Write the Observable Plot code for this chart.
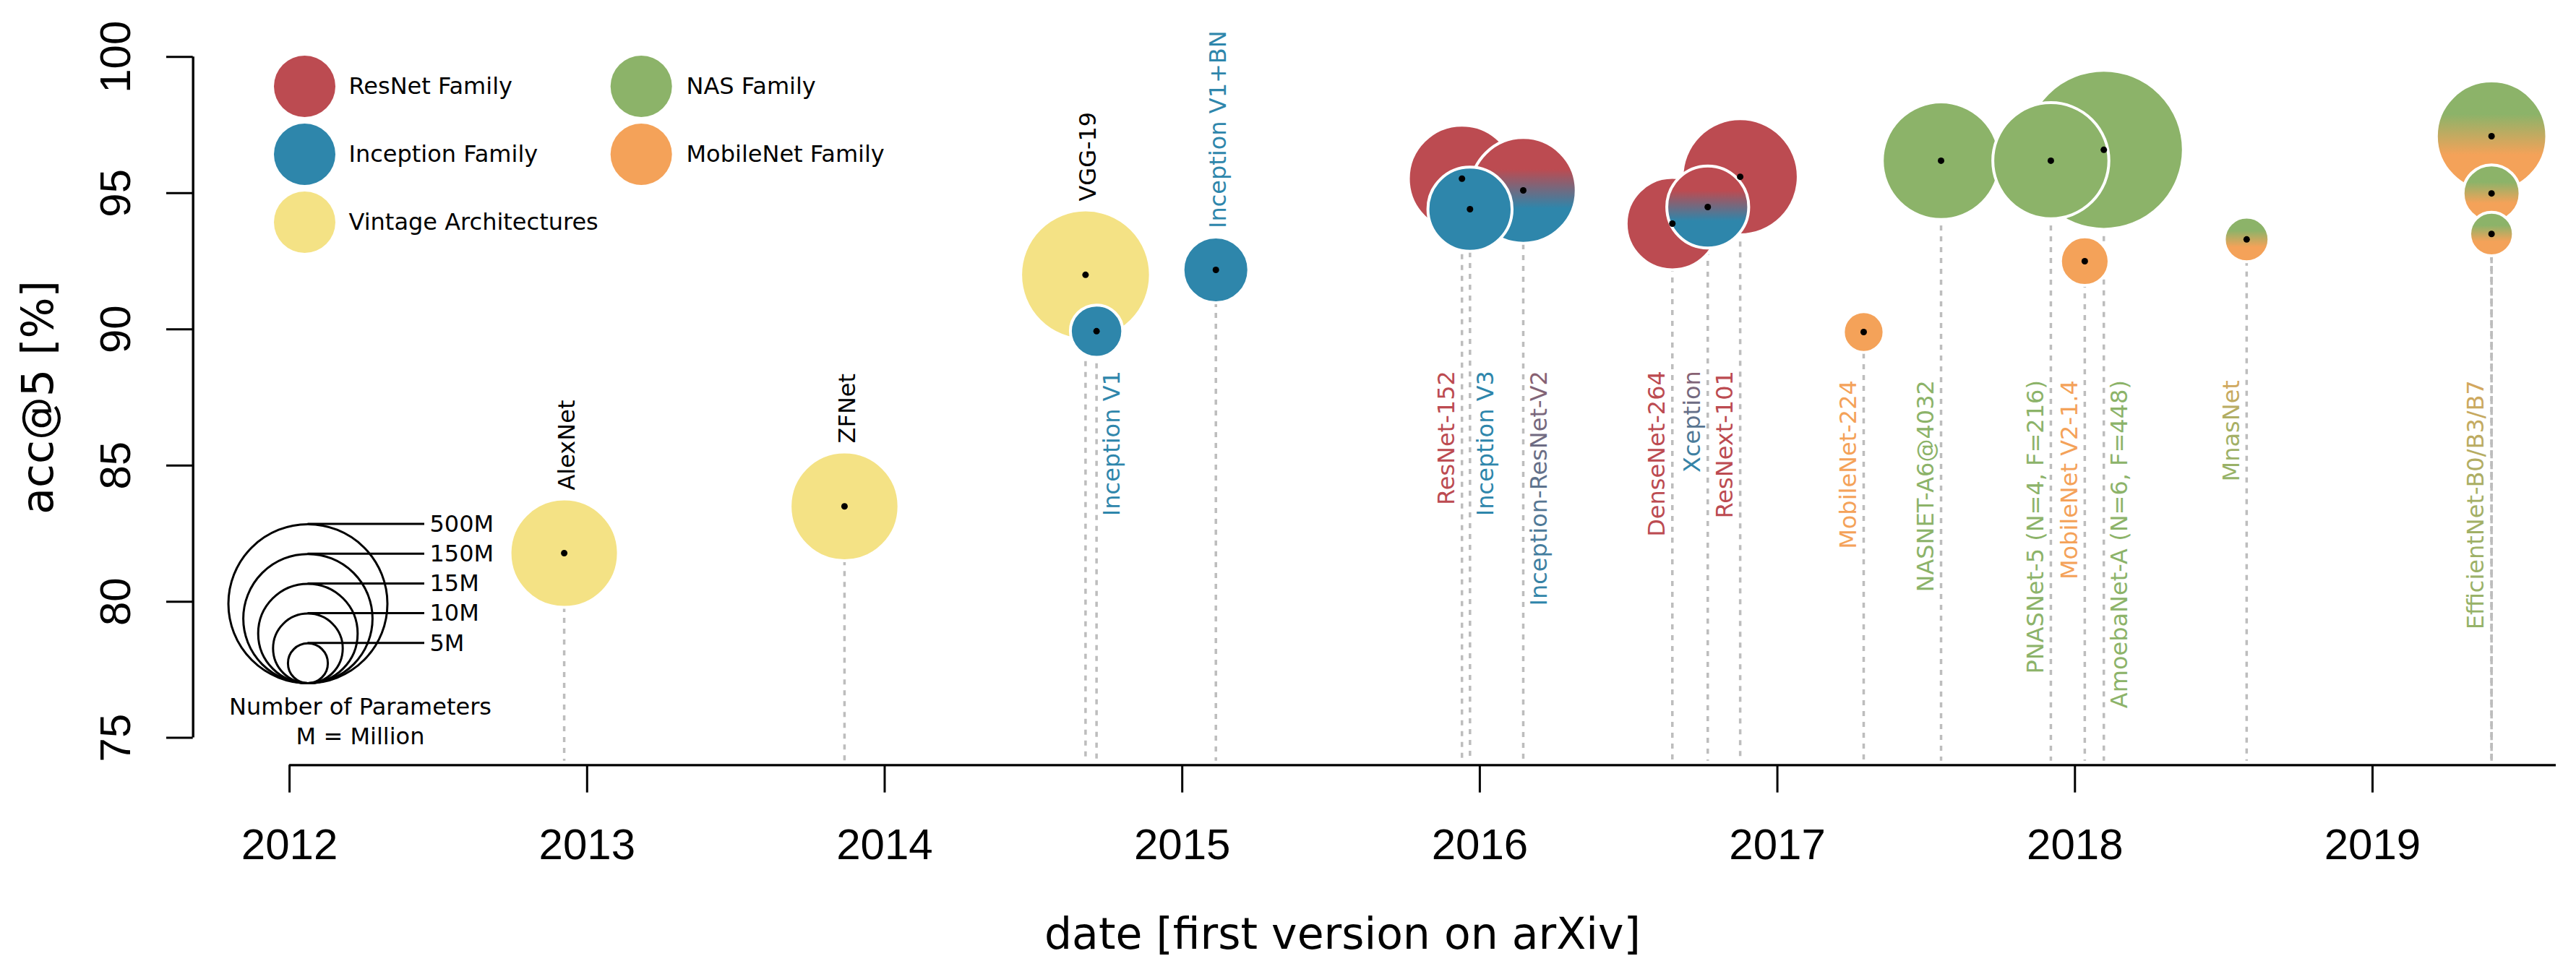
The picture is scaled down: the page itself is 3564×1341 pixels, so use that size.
<!DOCTYPE html>
<html><head><meta charset="utf-8">
<script src="https://cdn.jsdelivr.net/npm/d3@7"></script>
<script src="https://cdn.jsdelivr.net/npm/@observablehq/plot@0.6"></script>
<style>
html,body{margin:0;padding:0;background:#fff;}
#chart{width:3564px;height:1341px;}
</style>
</head><body><div id="chart"></div>
<script>
// ---------------- data ----------------
const names   = ["AlexNet","ZFNet","VGG-19","Inception V1","Inception V1+BN","ResNet-152","Inception V3","Inception-ResNet-V2","DenseNet-264","Xception","ResNext-101","MobileNet-224","NASNET-A6@4032","PNASNet-5","MobileNet V2-1.4","AmoebaNet-A","MnasNet","EfficientNet-B7","EfficientNet-B3","EfficientNet-B0"];
const dates   = [2012.923, 2013.865, 2014.675, 2014.712, 2015.113, 2015.940, 2015.967, 2016.146, 2016.647, 2016.766, 2016.875, 2017.290, 2017.550, 2017.919, 2018.033, 2018.097, 2018.577, 2019.400, 2019.400, 2019.400];
const acc5    = [81.78, 83.5, 92.0, 89.93, 92.18, 95.53, 94.41, 95.1, 93.88, 94.49, 95.6, 89.9, 96.19, 96.19, 92.5, 96.59, 93.3, 97.09, 94.99, 93.5];
const paramsM = [61, 62, 144, 6.4, 11, 58, 23, 55, 32, 21, 83, 4, 88, 83, 5.5, 469, 4.7, 66, 7.7, 4.5];
const family  = ["vintage","vintage","vintage","inception","inception","resnet","inception","resnet-inception","resnet","resnet-inception","resnet","mobilenet","nas","nas","mobilenet","nas","nas-mobilenet","nas-mobilenet","nas-mobilenet","nas-mobilenet"];
const labels  = ["AlexNet","ZFNet","VGG-19","Inception V1","Inception V1+BN","ResNet-152","Inception V3","Inception-ResNet-V2","DenseNet-264","Xception","ResNext-101","MobileNet-224","NASNET-A6@4032","PNASNet-5 (N=4, F=216)","MobileNet V2-1.4","AmoebaNet-A (N=6, F=448)","MnasNet","EfficientNet-B0/B3/B7","",""];
const labelPlace = ["above","above","above","right","above","left","right","right","left","left","left","left","left","left","left","right","left","left","none","none"];

const years  = [2012, 2013, 2014, 2015, 2016, 2017, 2018, 2019];
const yTicks = [75, 80, 85, 90, 95, 100];

const legendLabels = ["ResNet Family","Inception Family","Vintage Architectures","NAS Family","MobileNet Family"];
const legendKeys   = ["resnet","inception","vintage","nas","mobilenet"];
const sizeLabels   = ["500M","150M","15M","10M","5M"];

// ---------------- styles ----------------
const col = {resnet:"#BC4B51", inception:"#2E86AB", vintage:"#F4E285", nas:"#8CB369", mobilenet:"#F4A259"};
const W = 3564, H = 1341;
const mL = 266.7, mR = W - 3536, mT = 40.6, mB = H - 1058.3;
const xDomain = [2011.676, 2019.617];
const yDomain = [74, 101];
const rRange = [4.3, 123.1];
const rs = d3.scaleLog().domain([1, 1000]).range(rRange);
const SANS = "DejaVu Sans";
const NUM = "Liberation Sans";

const data = names.map((n, i) => ({name: n, date: dates[i], acc: acc5[i], params: paramsM[i], family: family[i], label: labels[i], place: labelPlace[i]}));

const circleFill = f => f.includes("-") ? `url(#cg-${f})` : col[f];
const labelFill  = f => f === "vintage" ? "#000" : (f.includes("-") ? `url(#tg-${f})` : col[f]);

// ---------------- marks ----------------
const marks = [];

// dashed drop lines
marks.push(Plot.ruleX(data, {x: "date", y1: "acc", y2: 74.15, stroke: "#bdbdbd", strokeWidth: 3.5, strokeDasharray: "7,8"}));

// axes
marks.push(Plot.ruleY([74], {x1: 2012, x2: xDomain[1], stroke: "black", strokeWidth: 3.2}));
marks.push(Plot.ruleX([xDomain[0]], {y1: 75, y2: 100, stroke: "black", strokeWidth: 3.4}));
marks.push(Plot.axisX(years, {anchor: "bottom", tickSize: 38.4, tickPadding: 49, strokeWidth: 3, tickFormat: d => String(d), fontSize: 60, fontFamily: NUM, fill: "black", label: null}));
marks.push(Plot.axisY(yTicks, {anchor: "left", tickSize: 36.7, strokeWidth: 3, tickFormat: () => "", label: null}));
marks.push(Plot.text(yTicks, {y: d => d, text: d => String(d), frameAnchor: "left", dx: -106.2, rotate: -90, textAnchor: "middle", lineAnchor: "middle", fontSize: 60, fontFamily: NUM, fill: "black"}));

// axis titles
marks.push(Plot.text(["date [first version on arXiv]"], {x: null, y: null, text: d => d, frameAnchor: "bottom", lineAnchor: "middle", textAnchor: "middle", dx: -44.4, dy: 235, fontSize: 60, fontFamily: SANS, fill: "black"}));
marks.push(Plot.text(["acc@5 [%]"], {x: null, y: null, text: d => d, frameAnchor: "left", dx: -213.3, rotate: -90, textAnchor: "middle", lineAnchor: "middle", fontSize: 60, fontFamily: SANS, fill: "black"}));

// bubbles (sorted by descending radius -> smaller on top)
marks.push(Plot.dot(data, {x: "date", y: "acc", r: "params", fill: d => circleFill(d.family), stroke: "white", strokeWidth: 4}));
// center dots
marks.push(Plot.dot(data, {x: "date", y: "acc", r: 4.5, fill: "black"}));

// labels
data.forEach(d => {
  if (d.place === "none") return;
  const common = {text: "label", rotate: -90, lineAnchor: "middle", fontSize: 32, fontFamily: SANS, fill: labelFill(d.family)};
  if (d.place === "above") {
    marks.push(Plot.text([d], {...common, x: "date", y: "acc", textAnchor: "start", dx: 4, dy: -(rs(d.params) + 12)}));
  } else {
    marks.push(Plot.text([d], {...common, x: "date", frameAnchor: "top", textAnchor: "end",
      dx: d.place === "right" ? 22 : -21, dy: d.date < 2017 ? 472 : 485}));
  }
});

// colour legend
legendLabels.forEach((lab, i) => {
  const c = i < 3 ? 0 : 1, row = i < 3 ? i : i - 3;
  const cx = c === 0 ? 421 : 886.7, cy = 119 + row * 94, tx = c === 0 ? 482 : 949;
  marks.push(Plot.dot([lab], {x: null, y: null, frameAnchor: "top-left", dx: cx - mL, dy: cy - mT, r: 42.5, fill: col[legendKeys[i]]}));
  marks.push(Plot.text([lab], {x: null, y: null, text: d => d, frameAnchor: "top-left", dx: tx - mL, dy: cy - mT, textAnchor: "start", lineAnchor: "middle", fontSize: 32, fontFamily: SANS, fill: "black"}));
});

// size key
const keyCx = 425.5, keyBottom = 945, keyLineEnd = 587;
const keyLines = [];
sizeLabels.forEach((lab, i) => {
  const r = 110 - i * 20.6;
  const top = keyBottom - 2 * r;
  keyLines.push(top);
  marks.push(Plot.dot([lab], {x: null, y: null, frameAnchor: "top-left", dx: keyCx - mL, dy: keyBottom - r - mT, r: r, fill: "none", stroke: "black", strokeWidth: 3}));
  marks.push(Plot.text([lab], {x: null, y: null, text: d => d, frameAnchor: "top-left", dx: 594 - mL, dy: top - mT, textAnchor: "start", lineAnchor: "middle", fontSize: 32, fontFamily: SANS, fill: "black"}));
});
marks.push(Plot.text(["Number of Parameters"], {x: null, y: null, text: d => d, frameAnchor: "top-left", dx: 498 - mL, dy: 978 - mT, textAnchor: "middle", lineAnchor: "middle", fontSize: 32, fontFamily: SANS, fill: "black"}));
marks.push(Plot.text(["M = Million"], {x: null, y: null, text: d => d, frameAnchor: "top-left", dx: 498 - mL, dy: 1019 - mT, textAnchor: "middle", lineAnchor: "middle", fontSize: 32, fontFamily: SANS, fill: "black"}));

const svg = Plot.plot({
  width: W, height: H,
  marginLeft: mL, marginRight: mR, marginTop: mT, marginBottom: mB,
  x: {domain: xDomain},
  y: {domain: yDomain},
  r: {type: "log", domain: [1, 1000], range: rRange},
  color: {type: "identity"},
  style: {fontFamily: SANS, background: "white", overflow: "visible"},
  marks
});

// gradients
const defs = d3.select(svg).insert("defs", ":first-child");
const mix = (a, b, t) => d3.interpolateRgb(a, b)(t);
function grad(id, vertical, stops) {
  const g = defs.append("linearGradient").attr("id", id)
    .attr("x1", 0).attr("y1", 0).attr("x2", vertical ? 0 : 1).attr("y2", vertical ? 1 : 0);
  stops.forEach(([o, c]) => g.append("stop").attr("offset", o).attr("stop-color", c));
}
grad("cg-resnet-inception", true, [[0.3, col.resnet], [0.67, col.inception]]);
grad("cg-nas-mobilenet", true, [[0.3, col.nas], [0.67, col.mobilenet]]);
grad("tg-resnet-inception", false, [[0, col.inception], [1, mix(col.inception, col.resnet, 0.65)]]);
grad("tg-nas-mobilenet", false, [[0, mix(col.nas, col.mobilenet, 0.08)], [0.55, mix(col.nas, col.mobilenet, 0.25)], [1, mix(col.nas, col.mobilenet, 0.7)]]);

// size-key connector lines
d3.select(svg).append("g").selectAll("line").data(keyLines).join("line")
  .attr("x1", keyCx).attr("x2", keyLineEnd).attr("y1", d => d).attr("y2", d => d)
  .attr("stroke", "black").attr("stroke-width", 3);

document.getElementById("chart").appendChild(svg);
</script>
</body></html>
